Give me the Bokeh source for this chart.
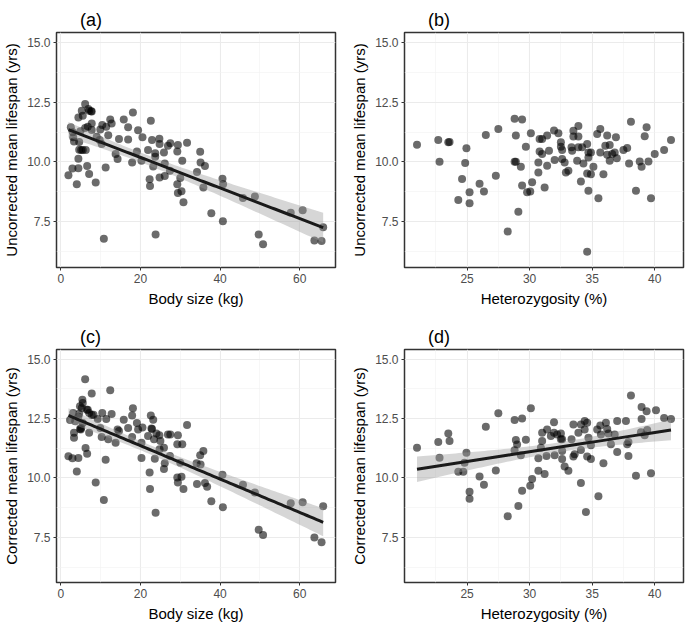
import numpy as np
from bokeh.plotting import figure
from bokeh.models import Range1d, FixedTicker, NumeralTickFormatter
from bokeh.layouts import column, row
from bokeh.embed import file_html
from bokeh.resources import INLINE

# ---------------- data ----------------
# (a) body size (kg) vs uncorrected mean lifespan (yrs)
body_size_a = [1.9, 2.5, 2.9, 3.1, 3.3, 4.0, 4.4, 4.4, 4.6, 4.6, 4.4, 5.25, 5.5, 4.9, 5.1,
               6.1, 6.1, 6.25, 6.6, 6.75, 7.1, 7.1, 7.75, 7.75, 7.75, 8.75, 9.0, 9.75, 9.9,
               10.4, 10.25, 10.8, 11.25, 11.4, 11.9, 12.4, 12.75, 13.75, 14.25, 14.6, 15.8,
               16.9, 16.9, 17.9, 18.1, 19.1, 19.4, 20.25, 20.5, 21.9, 22.3, 22.4, 22.6, 22.9,
               23.2, 23.7, 23.7, 23.8, 24.75, 24.8, 24.8, 25.9, 26.1, 26.1, 26.9, 27.5, 27.4,
               29.4, 29.25, 29.25, 29.4, 30.0, 30.3, 30.5, 30.8, 31.7, 34.2, 35.0, 35.1, 35.8,
               36.2, 37.8, 40.6, 40.75, 40.7, 45.75, 48.75, 49.7, 50.8, 57.75, 60.75, 63.7,
               65.5, 65.9, 6.9, 7.6, 3.0, 5.5]
uncorrected_a = [9.45, 11.45, 9.73, 11.03, 10.85, 9.07, 9.74, 10.13, 10.51, 10.83, 11.86, 12.14,
                 11.93, 11.28, 10.5, 12.42, 11.42, 10.5, 9.83, 11.47, 9.5, 12.14, 12.11, 11.61,
                 11.33, 9.14, 11.05, 10.92, 11.35, 11.54, 10.75, 6.8, 9.77, 11.47, 11.12, 11.77,
                 11.61, 10.33, 10.12, 10.96, 11.77, 11.45, 10.94, 9.98, 12.06, 10.44, 11.32,
                 10.05, 11.03, 10.5, 9.28, 9.0, 11.72, 10.92, 9.81, 10.36, 10.22, 6.98, 10.97,
                 10.75, 9.35, 10.4, 9.94, 9.42, 10.68, 10.78, 9.63, 10.71, 10.44, 9.07, 8.71,
                 9.33, 8.78, 10.05, 8.32, 10.8, 9.58, 10.43, 9.98, 8.94, 9.83, 7.86, 9.3, 9.07,
                 7.53, 8.5, 8.56, 6.98, 6.57, 7.88, 7.99, 6.73, 6.7, 7.28, 12.21, 12.12, 11.24,
                 10.5]

# (b) heterozygosity (%) vs uncorrected mean lifespan (yrs)
heterozygosity_b = [21.0, 22.7, 23.5, 23.6, 22.8, 24.95, 24.85, 26.5, 27.5, 28.8, 29.4, 28.9,
                    29.7, 24.6, 25.2, 24.3, 25.2, 26.0, 26.35, 27.3, 28.8, 28.9, 29.3, 29.4,
                    29.1, 28.25, 29.8, 31.0,
                    30.1, 30.8, 31.4, 31.95, 32.3, 30.8, 31.0, 30.7, 31.4, 31.2, 30.2, 30.05,
                    30.7, 32.5, 32.5, 32.6, 32.6, 32.0, 31.55, 32.9, 33.1, 32.8, 33.5, 33.9,
                    33.5, 33.9, 33.35, 33.4, 33.9, 34.2, 34.6, 34.7, 34.9, 33.8, 34.3, 34.7,
                    35.1, 34.6, 34.9, 34.1, 34.7, 35.5, 35.9, 35.4, 35.65, 36.2, 36.9, 36.05,
                    36.4, 35.65, 36.2, 36.6, 36.8, 36.4, 36.97, 37.5, 37.8, 37.95, 38.1, 39.35,
                    39.2, 38.8, 38.95, 39.5, 40.0, 40.75, 41.3, 38.5, 39.7, 34.6]
uncorrected_b = [10.72, 10.92, 10.82, 10.83, 10.01, 10.57, 9.96, 11.13, 11.38, 11.8, 11.77, 11.1,
                 10.64, 9.29, 8.74, 8.41, 8.28, 9.09, 8.77, 9.43, 10.01, 10.01, 9.8, 9.02,
                 7.93, 7.1, 8.74, 10.96,
                 11.2, 10.96, 11.1, 11.31, 11.2, 10.44, 10.33, 9.98, 9.84, 8.94, 9.15, 8.77,
                 9.56, 10.82, 10.64, 10.5, 10.12, 10.08, 10.47, 9.56, 9.63, 9.98, 11.3, 11.5,
                 11.06, 11.06, 10.61, 10.47, 10.61, 10.61, 10.75, 10.4, 10.4, 10.05, 9.94,
                 10.19, 9.8, 9.52, 9.49, 9.19, 8.8, 8.49, 9.49, 11.17, 11.38, 11.1, 11.03,
                 10.68, 10.71, 10.4, 10.3, 10.33, 10.4, 10.05, 10.16, 10.5, 10.58, 9.94, 11.68,
                 11.45, 11.07, 10.02, 9.8, 10.02, 10.33, 10.5, 10.92, 8.8, 8.49, 6.26]

# (c) body size (kg) vs corrected mean lifespan (yrs)
body_size_c = [1.9, 2.3, 2.9, 3.1, 3.3, 3.3, 4.0, 4.4, 4.4, 4.6, 4.8, 5.1, 5.25, 5.4, 5.5, 6.1,
               6.2, 6.6, 6.75, 7.1, 7.1, 7.75, 7.75, 8.75, 9.25, 9.9, 10.4, 10.25, 10.8, 11.25,
               11.4, 11.9, 12.4, 12.75, 13.75, 14.25, 14.6, 15.8, 16.9, 17.9, 18.1, 17.9, 19.1,
               19.4, 20.25, 20.5, 20.25, 21.9, 22.3, 22.4, 22.6, 22.9, 23.2, 23.4, 23.6, 23.8,
               24.75, 24.8, 25.0, 25.9, 25.9, 26.1, 26.9, 27.5, 27.4, 29.4, 29.25, 29.25, 29.4,
               30.0, 30.5, 30.3, 30.8, 31.7, 34.2, 35.0, 35.1, 34.1, 35.8, 36.2, 36.75, 37.8,
               40.6, 40.7, 45.75, 48.75, 49.7, 50.8, 57.75, 60.75, 63.7, 65.5, 65.9, 4.8, 5.5,
               6.5, 8.2, 3.6, 5.0, 22.75, 24.0]
corrected_c = [10.91, 12.43, 10.83, 12.73, 11.69, 11.9, 10.27, 10.84, 12.57, 12.7, 12.06, 12.1,
               12.94, 13.29, 12.31, 14.15, 11.26, 11.02, 12.87, 11.9, 12.73, 13.55, 12.65, 9.81,
               12.48, 12.1, 12.73, 11.72, 9.07, 10.76, 12.48, 11.62, 13.69, 12.69, 11.48, 12.03,
               11.97, 12.45, 12.1, 11.72, 12.93, 12.62, 12.31, 12.03, 11.48, 12.12, 10.84,
               11.76, 10.23, 9.53, 12.62, 12.06, 12.45, 11.62, 10.81, 8.53, 11.79, 11.2, 11.55,
               11.27, 10.37, 10.62, 11.83, 11.83, 10.92, 11.79, 11.41, 10.02, 9.81, 10.64,
               11.41, 10.05, 9.53, 12.22, 9.74, 10.95, 10.56, 10.62, 11.13, 9.78, 9.63, 9.02,
               10.13, 8.77, 9.71, 9.39, 7.82, 7.6, 8.93, 8.98, 7.49, 7.29, 8.81, 13.01, 13.15,
               12.87, 12.66, 12.38, 12.04, 12.08, 11.87]

# (d) heterozygosity (%) vs corrected mean lifespan (yrs)
heterozygosity_d = [21.0, 22.7, 22.8, 23.5, 23.6, 24.95, 24.8, 24.3, 24.7, 25.2, 25.2, 26.0,
                    26.35, 26.5, 27.5, 27.3, 28.8, 29.4, 28.9, 29.0, 28.8, 29.3, 29.7, 29.4,
                    29.1, 28.25,
                    30.1, 30.2, 30.05, 30.7, 31.2, 30.7, 30.9, 31.0, 31.0, 31.4, 31.7, 31.95,
                    31.95, 32.2, 32.5, 32.5, 32.6, 31.35, 32.0, 32.6, 32.6, 32.8, 33.1, 33.35,
                    33.5, 33.5, 33.6, 33.9, 34.1, 34.4, 34.6, 34.4, 34.7, 34.1, 34.6, 34.9,
                    34.9, 34.1, 34.5, 35.5, 35.9, 35.4, 35.65, 36.1, 35.7, 36.2, 36.5, 36.3,
                    36.8, 37.0, 37.0, 37.7, 37.8, 37.9, 37.9, 38.1, 38.95, 39.35, 38.95, 38.9,
                    39.2, 39.4, 40.1, 40.75, 41.3, 38.5, 39.7]
corrected_d = [11.27, 11.51, 10.85, 11.87, 11.55, 11.06, 10.64, 10.26, 10.26, 9.42, 9.12, 10.06,
               9.71, 12.15, 12.72, 10.31, 12.43, 12.5, 11.59, 11.4, 11.16, 10.95, 11.6, 9.46,
               8.82, 8.39,
               12.93, 9.95, 9.67, 10.3, 10.16, 10.83, 11.27, 11.55, 11.9, 12.04, 11.76, 12.34,
               11.9, 11.83, 11.87, 11.62, 11.62, 10.92, 10.95, 11.13, 10.79, 10.48, 10.3,
               11.62, 10.9, 12.25, 10.99, 11.9, 12.25, 12.39, 12.32, 12.04, 11.69, 11.17, 10.9,
               10.79, 11.37, 9.78, 8.56, 9.23, 10.62, 12.04, 12.2, 12.32, 11.83, 12.06, 11.41,
               11.87, 11.83, 12.39, 11.09, 12.39, 11.41, 10.92, 11.51, 13.46, 12.98, 12.8,
               12.48, 11.92, 11.79, 12.01, 12.84, 12.52, 12.48, 10.09, 10.19]

body_ticks = [0, 20, 40, 60]
body_minor = [10, 30, 50]
het_ticks = [25, 30, 35, 40]
het_minor = [22.5, 27.5, 32.5, 37.5]
life_ticks = [7.5, 10.0, 12.5, 15.0]
life_minor = [6.25, 8.75, 11.25, 13.75]

FONT = "Liberation Sans"
T95 = 1.984
Y_RANGE = (5.6, 15.4)


def panel(title, x, y, xlab, ylab, xr, xt, xm, width, height, bl, br, bt, bb, smooth=True):
    p = figure(width=width, height=height, x_range=Range1d(*xr), y_range=Range1d(*Y_RANGE),
               output_backend="svg", toolbar_location=None,
               min_border_left=bl, min_border_right=br, min_border_top=bt, min_border_bottom=bb)
    p.background_fill_color = "white"
    p.border_fill_color = "white"
    p.outline_line_color = "#333333"
    p.outline_line_width = 1.5

    p.title.text = title
    p.title.text_font = FONT
    p.title.text_font_size = "18px"
    p.title.text_font_style = "normal"
    p.title.text_color = "black"
    p.title.align = "left"
    p.title.vertical_align = "top"
    p.title.standoff = 1
    p.title.offset = 23.5

    p.xaxis.ticker = FixedTicker(ticks=xt, minor_ticks=xm)
    p.yaxis.ticker = FixedTicker(ticks=life_ticks, minor_ticks=life_minor)
    p.yaxis.formatter = NumeralTickFormatter(format="0.0")
    p.xaxis.axis_label = xlab
    p.yaxis.axis_label = ylab
    for ax in (p.xaxis[0], p.yaxis[0]):
        ax.axis_line_color = None
        ax.major_tick_line_color = "#333333"
        ax.major_tick_in = 0
        ax.major_tick_out = 3
        ax.minor_tick_line_color = None
        ax.major_label_text_font = FONT
        ax.major_label_text_font_size = "12px"
        ax.major_label_text_color = "#4D4D4D"
        ax.major_label_standoff = 2
        ax.axis_label_text_font = FONT
        ax.axis_label_text_font_size = "15px"
        ax.axis_label_text_font_style = "normal"
        ax.axis_label_text_color = "black"
        ax.axis_label_standoff = 4

    for g in (p.xgrid[0], p.ygrid[0]):
        g.grid_line_color = "#EBEBEB"
        g.grid_line_width = 1.1
        g.minor_grid_line_color = "#F2F2F2"
        g.minor_grid_line_width = 0.6

    xa = np.asarray(x, dtype=float)
    ya = np.asarray(y, dtype=float)
    p.scatter(xa, ya, size=8, fill_color="black", fill_alpha=0.58, line_color=None)

    if smooth:
        slope, intercept = np.polyfit(xa, ya, 1)
        n = len(xa)
        resid = ya - (intercept + slope * xa)
        s = np.sqrt(np.sum(resid ** 2) / (n - 2))
        xbar = xa.mean()
        sxx = np.sum((xa - xbar) ** 2)
        xs = np.linspace(xa.min(), xa.max(), 80)
        fit = intercept + slope * xs
        se = s * np.sqrt(1.0 / n + (xs - xbar) ** 2 / sxx)
        p.varea(x=xs, y1=fit - T95 * se, y2=fit + T95 * se, fill_color="#999999", fill_alpha=0.4)
        p.line(xs, fit, line_color="#1a1a1a", line_width=3)
    return p


pa = panel("(a)", body_size_a, uncorrected_a, "Body size (kg)", "Uncorrected mean lifespan (yrs)",
           (-1.1, 69.0), body_ticks, body_minor, 348, 317, 55, 13, 32, 50)
pb = panel("(b)", heterozygosity_b, uncorrected_b, "Heterozygosity (%)", "Uncorrected mean lifespan (yrs)",
           (20.0, 42.3), het_ticks, het_minor, 340, 317, 55, 5, 32, 50, smooth=False)
pc = panel("(c)", body_size_c, corrected_c, "Body size (kg)", "Corrected mean lifespan (yrs)",
           (-1.1, 69.0), body_ticks, body_minor, 348, 307, 55, 13, 32, 39)
pd = panel("(d)", heterozygosity_d, corrected_d, "Heterozygosity (%)", "Corrected mean lifespan (yrs)",
           (20.0, 42.3), het_ticks, het_minor, 340, 307, 55, 5, 32, 39)

layout = column(row(pa, pb), row(pc, pd))

with open("out.html", "w") as f:
    f.write(file_html(layout, INLINE))
